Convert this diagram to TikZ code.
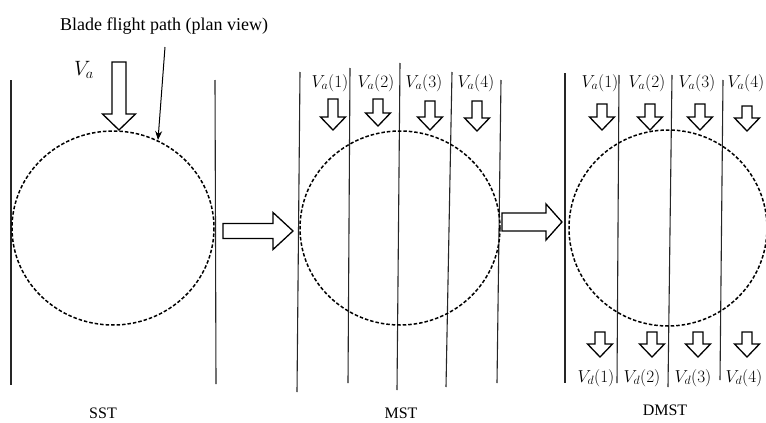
\documentclass[tikz,border=0pt]{standalone}
\usepackage{fontspec}
\setmainfont{Liberation Serif}
\usetikzlibrary{arrows.meta}
\tikzset{
  vline/.style={line width=1.1pt, draw=black!85},
  blade/.style={line width=1.5pt, dash pattern=on 3.5pt off 2pt},
  hollow/.style={line width=1.3pt, fill=white, line join=miter},
  lbl/.style={inner sep=0pt, font=\fontsize{17}{17}\selectfont},
  ttl/.style={inner sep=0pt, font=\fontsize{16}{16}\selectfont},
}
% down arrow: x, ytop, ytip, shaft width, head width, head length
\newcommand\dnarr[6]{%
  \draw[hollow] ({#1-#4/2},{#2}) -- ({#1+#4/2},{#2}) -- ({#1+#4/2},{#3-#6}) -- ({#1+#5/2},{#3-#6})
   -- ({#1},{#3}) -- ({#1-#5/2},{#3-#6}) -- ({#1-#4/2},{#3-#6}) -- cycle;}
% right arrow: y, xtail, xtip, shaft width, head width, head length
\newcommand\rtarr[6]{%
  \draw[hollow] ({#2},{#1-#4/2}) -- ({#3-#6},{#1-#4/2}) -- ({#3-#6},{#1-#5/2}) -- ({#3},{#1})
   -- ({#3-#6},{#1+#5/2}) -- ({#3-#6},{#1+#4/2}) -- ({#2},{#1+#4/2}) -- cycle;}
\begin{document}
\begin{tikzpicture}[x=1pt,y=-1pt]
\useasboundingbox (0,0) rectangle (766,423);
\clip (0,0) rectangle (766,423);
\fill[white] (0,0) rectangle (766,423);

% ---------------- SST ----------------
\draw[vline] (11,80) -- (11,385);
\draw[vline] (215,80) -- (216,384);
\draw[blade] (113,228) ellipse [x radius=101, y radius=97];
\dnarr{119}{62}{130}{14}{33}{16}
\node[inner sep=0pt, font=\fontsize{21}{21}\selectfont] (va) at (84,70) {$V_a$};
\node[inner sep=0pt, font=\fontsize{18}{18}\selectfont] (title) at (164,26) {Blade flight path (plan view)};
\coordinate (hit) at (158,140);
\draw[line width=1pt, -{Stealth[length=9pt,width=7pt]}] (165,47) -- (hit);
\node[ttl] (sst) at (103,413) {SST};

% arrow SST -> MST
\rtarr{231}{223}{293}{15}{37}{20}

% ---------------- MST ----------------
\draw[vline] (300,72) -- (297,392);
\draw[vline] (350,68) -- (348,383);
\draw[vline] (400,63) -- (397,390);
\draw[vline] (452,72) -- (446,387);
\draw[vline] (501,80) -- (497,383);
\draw[blade] (400,228) ellipse [x radius=100, y radius=97];
\node[lbl] (m1) at (330,83) {$V_a(1)$};
\node[lbl] (m2) at (376,83) {$V_a(2)$};
\node[lbl] (m3) at (424,83) {$V_a(3)$};
\node[lbl] (m4) at (476,83) {$V_a(4)$};
\dnarr{333}{99}{130}{10}{25}{13}
\dnarr{378}{99}{126}{10}{25}{13}
\dnarr{430}{101}{130}{10}{25}{13}
\dnarr{477}{101}{131}{10}{25}{13}
\node[ttl] (mst) at (401,413) {MST};

% arrow MST -> DMST
\rtarr{222}{502}{562}{18}{36}{16}

% ---------------- DMST ----------------
\draw[vline] (565,73) -- (565,383);
\draw[vline] (619,75) -- (617,383);
\draw[vline] (672,75) -- (668,387);
\draw[vline] (723,80) -- (720,380);
\draw[blade] (668,228) ellipse [x radius=99, y radius=98];
\node[lbl] (d1) at (600,83) {$V_a(1)$};
\node[lbl] (d2) at (647,83) {$V_a(2)$};
\node[lbl] (d3) at (697,83) {$V_a(3)$};
\node[lbl] (d4) at (746,83) {$V_a(4)$};
\dnarr{602}{104}{130}{10}{25}{13}
\dnarr{650}{104}{130}{10}{25}{13}
\dnarr{700}{104}{130}{10}{25}{13}
\dnarr{747}{106}{131}{10}{25}{13}
\dnarr{600}{332}{357}{10}{25}{13}
\dnarr{652}{332}{357}{10}{25}{13}
\dnarr{698}{332}{357}{10}{25}{13}
\dnarr{747}{332}{357}{10}{25}{13}
\node[lbl] (e1) at (596,378) {$V_d(1)$};
\node[lbl] (e2) at (642,378) {$V_d(2)$};
\node[lbl] (e3) at (693,378) {$V_d(3)$};
\node[lbl] (e4) at (744,378) {$V_d(4)$};
\node[ttl] (dmst) at (665,410) {DMST};
\end{tikzpicture}
\end{document}
